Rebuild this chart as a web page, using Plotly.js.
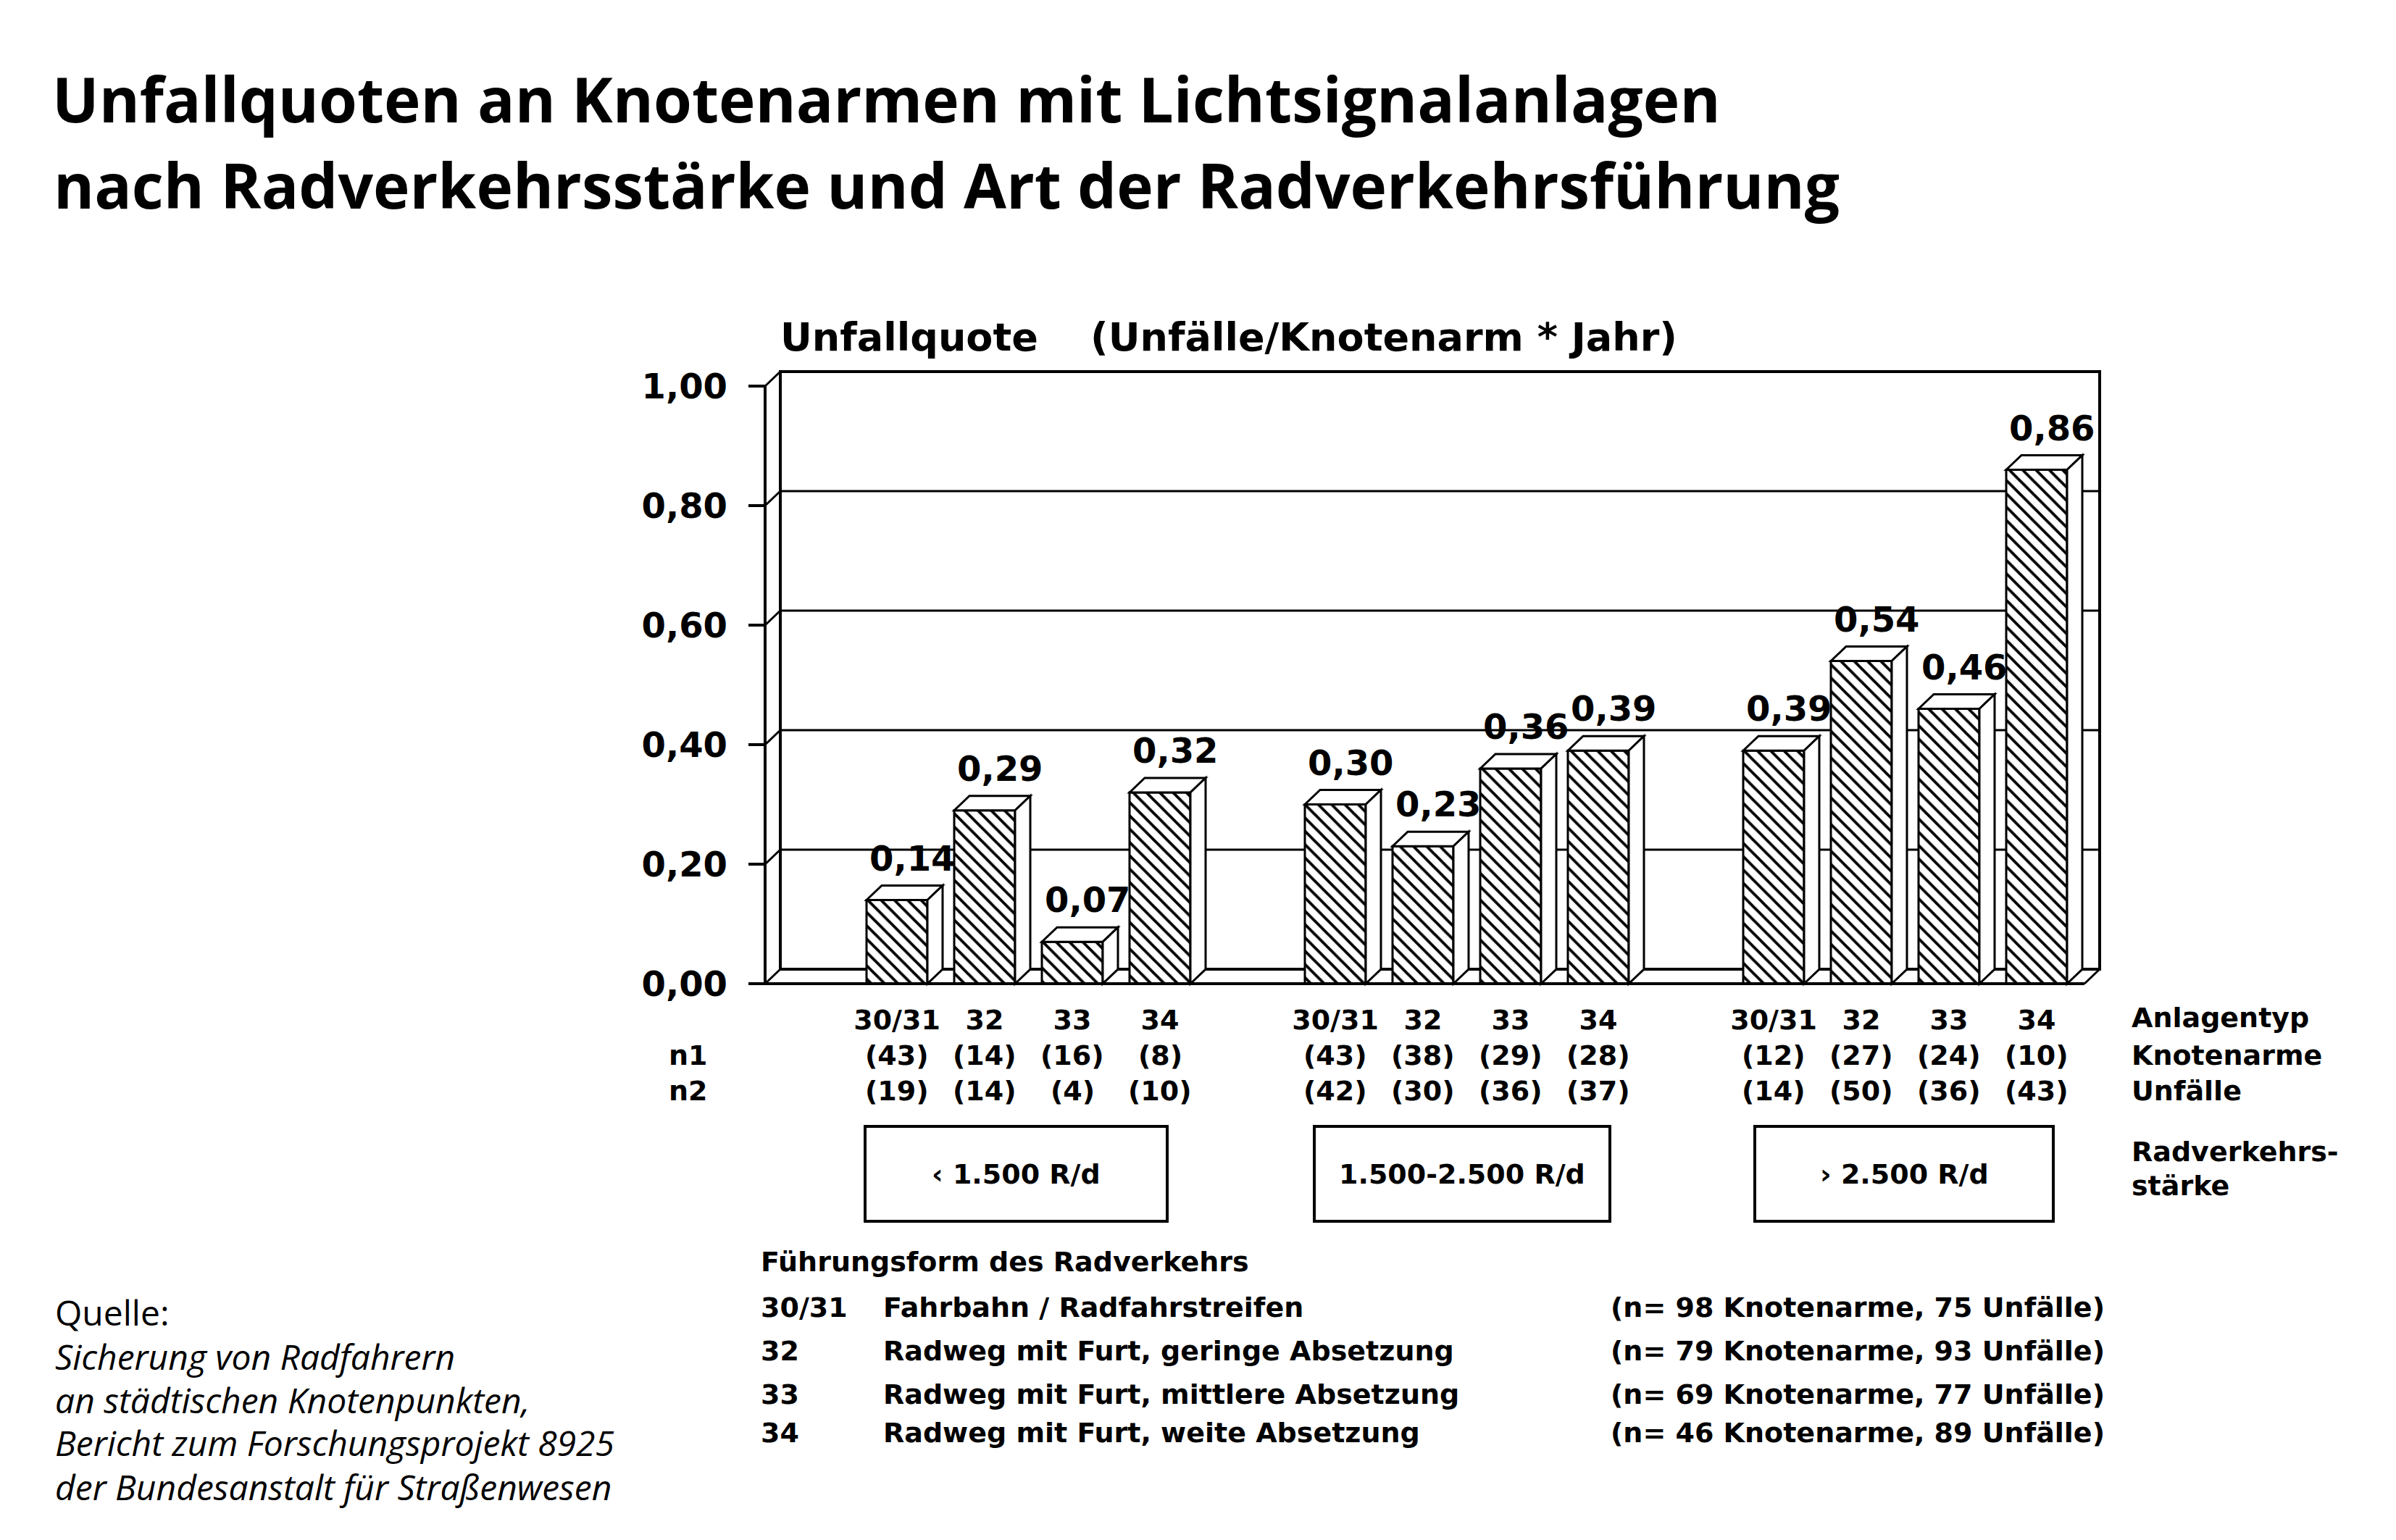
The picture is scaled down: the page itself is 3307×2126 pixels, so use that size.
<!DOCTYPE html>
<html>
<head>
<meta charset="utf-8">
<script src="https://cdn.plot.ly/plotly-3.0.1.min.js"></script>
<style>html,body{margin:0;padding:0;background:#fff;}#chart{width:3307px;height:2126px;}</style>
</head>
<body>
<div id="chart"></div>
<script>
// ---------------- data ----------------
const titelZeilen = ["Unfallquoten an Knotenarmen mit Lichtsignalanlagen", "nach Radverkehrsstärke und Art der Radverkehrsführung"];
const anlagentyp = ["30/31", "32", "33", "34"];
const radverkehrsstaerke = ["‹ 1.500 R/d", "1.500-2.500 R/d", "› 2.500 R/d"];
const quote_unter1500 = [0.14, 0.29, 0.07, 0.32];
const quote_1500bis2500 = [0.30, 0.23, 0.36, 0.39];
const quote_ueber2500 = [0.39, 0.54, 0.46, 0.86];
const knotenarme_unter1500 = [43, 14, 16, 8];
const knotenarme_1500bis2500 = [43, 38, 29, 28];
const knotenarme_ueber2500 = [12, 27, 24, 10];
const unfaelle_unter1500 = [19, 14, 4, 10];
const unfaelle_1500bis2500 = [42, 30, 36, 37];
const unfaelle_ueber2500 = [14, 50, 36, 43];
const yTickVals = [0, 0.2, 0.4, 0.6, 0.8, 1.0];
const yTickText = ["0,00", "0,20", "0,40", "0,60", "0,80", "1,00"];
const fuehrungCodes = ["30/31", "32", "33", "34"];
const fuehrungNamen = ["Fahrbahn / Radfahrstreifen", "Radweg mit Furt, geringe Absetzung", "Radweg mit Furt, mittlere Absetzung", "Radweg mit Furt, weite Absetzung"];
const fuehrungKnotenarme = [98, 79, 69, 46];
const fuehrungUnfaelle = [75, 93, 77, 89];
const quelleZeilen = ["Sicherung von Radfahrern", "an städtischen Knotenpunkten,", "Bericht zum Forschungsprojekt 8925", "der Bundesanstalt für Straßenwesen"];

// ---------------- geometry (layout) ----------------
const W = 3307, H = 2126;
const plotL = 1025, plotR = 2910, plotT = 500, plotB = 1372;
const slotPx = 121, pos0Px = 1238, zeroPx = 1358, unitPx = 825;
const xRange = [(plotL - pos0Px) / slotPx, (plotR - pos0Px) / slotPx];
const yRange = [(zeroPx - plotB) / unitPx, (zeroPx - plotT) / unitPx];
const DX = 21 / slotPx, DY = 20 / unitPx;
const XF0 = (1056 - pos0Px) / slotPx, XF1 = (2877 - pos0Px) / slotPx;
const BARW = 84 / slotPx;
const PX = p => (p - plotL) / (plotR - plotL);
const PY = p => (plotB - p) / (plotB - plotT);

const groupQuote = [quote_unter1500, quote_1500bis2500, quote_ueber2500];
const groupN1 = [knotenarme_unter1500, knotenarme_1500bis2500, knotenarme_ueber2500];
const groupN2 = [unfaelle_unter1500, unfaelle_1500bis2500, unfaelle_ueber2500];
const xs = [], ys = [], labels = [], n1 = [], n2 = [];
groupQuote.forEach((g, gi) => g.forEach((v, i) => {
  xs.push(gi * 5 + i); ys.push(v); labels.push(anlagentyp[i]);
  n1.push(groupN1[gi][i]); n2.push(groupN2[gi][i]);
}));
const fmt = v => v.toFixed(2).replace('.', ',');

const F = 'DejaVu Sans';
const annotations = [];
function ann(text, x, y, o) {
  o = o || {};
  annotations.push(Object.assign({
    text: text, x: x, y: y, xref: 'paper', yref: 'paper', showarrow: false,
    xanchor: 'center', yanchor: 'middle',
    font: {family: F, size: 38, color: '#000', weight: 'bold'}
  }, o));
}
const titleFont = {family: 'Open Sans', size: 85.5, color: '#000', weight: 700};
ann(titelZeilen[1], PX(72), PY(255), {xanchor: 'left', font: titleFont});

// value labels
xs.forEach((x, k) => ann(fmt(ys[k]), x + DX, ys[k] + DY, {xref: 'x', yref: 'y', yanchor: 'bottom', yshift: 8, font: {family: F, size: 48, color: '#000', weight: 'bold'}}));
// n1 / n2 rows
xs.forEach((x, k) => {
  ann('(' + n1[k] + ')', x, PY(1457), {xref: 'x'});
  ann('(' + n2[k] + ')', x, PY(1506), {xref: 'x'});
});
ann('n1', PX(950), PY(1457));
ann('n2', PX(950), PY(1506));
ann('Anlagentyp', PX(2940), PY(1405), {xanchor: 'left'});
ann('Knotenarme', PX(2940), PY(1457), {xanchor: 'left'});
ann('Unfälle', PX(2940), PY(1506), {xanchor: 'left'});
ann('Radverkehrs-', PX(2940), PY(1590), {xanchor: 'left'});
ann('stärke', PX(2940), PY(1637), {xanchor: 'left'});
// boxes
const boxes = [[1194, 1611], [1814, 2222], [2422, 2834]];
const shapes = [];
boxes.forEach((b, i) => {
  shapes.push({type: 'rect', xref: 'paper', yref: 'paper', x0: PX(b[0]), x1: PX(b[1]), y0: PY(1686), y1: PY(1555), line: {color: '#000', width: 4}, layer: 'above'});
  ann(radverkehrsstaerke[i], PX((b[0] + b[1]) / 2), PY(1621));
});
// subtitle
const subFont = {family: F, size: 54, color: '#000', weight: 'bold'};
ann('Unfallquote', PX(1075), PY(465), {xanchor: 'left', font: subFont});
ann('(Unfälle/Knotenarm\u00a0*\u00a0Jahr)', PX(1503), PY(465), {xanchor: 'left', font: subFont});
// legend of Führungsform
ann('Führungsform des Radverkehrs', PX(1048), PY(1742), {xanchor: 'left'});
const legY = [1805, 1865, 1925, 1978];
fuehrungCodes.forEach((c, i) => {
  ann(c, PX(1048), PY(legY[i]), {xanchor: 'left'});
  ann(fuehrungNamen[i], PX(1217), PY(legY[i]), {xanchor: 'left'});
  ann('(n= ' + fuehrungKnotenarme[i] + ' Knotenarme, ' + fuehrungUnfaelle[i] + ' Unfälle)', PX(2221), PY(legY[i]), {xanchor: 'left'});
});
// source
const qFont = {family: 'Open Sans', size: 48, color: '#000', weight: 400};
ann('Quelle:', PX(74), PY(1812), {xanchor: 'left', font: qFont});
quelleZeilen.forEach((t, i) => ann(t, PX(74), PY(1872 + 60 * i), {xanchor: 'left', font: Object.assign({}, qFont, {style: 'italic'})}));

// ---------------- 3D frame shapes ----------------
function line(x0, y0, x1, y1, w, layer) {
  shapes.push({type: 'line', xref: 'x', yref: 'y', x0: x0, y0: y0, x1: x1, y1: y1, line: {color: '#000', width: w}, layer: layer || 'below'});
}
yTickVals.slice(1, -1).forEach(v => line(XF0 + DX, v + DY, XF1 + DX, v + DY, 3));
shapes.push({type: 'rect', xref: 'x', yref: 'y', x0: XF0 + DX, x1: XF1 + DX, y0: DY, y1: 1 + DY, line: {color: '#000', width: 4}, layer: 'below'});
line(XF0, 0, XF0, 1, 4);
yTickVals.forEach(v => line(XF0, v, XF0 + DX, v + DY, 3));
line(XF0, 0, XF1, 0, 4, 'above');
line(XF1, 0, XF1 + DX, DY, 3, 'above');
yTickVals.forEach(v => line(XF0 - 23 / slotPx, v, XF0, v, 4, 'above'));
// bar tops and sides
xs.forEach((x, k) => {
  const v = ys[k], l = x - BARW / 2, r = x + BARW / 2;
  shapes.push({type: 'path', xref: 'x', yref: 'y', layer: 'above', fillcolor: '#fff', line: {color: '#000', width: 3},
    path: `M ${l},${v} L ${l + DX},${v + DY} L ${r + DX},${v + DY} L ${r},${v} Z`});
  shapes.push({type: 'path', xref: 'x', yref: 'y', layer: 'above', fillcolor: '#fff', line: {color: '#000', width: 3},
    path: `M ${r},${v} L ${r + DX},${v + DY} L ${r + DX},${DY} L ${r},0 Z`});
});

const trace = {
  type: 'bar', x: xs, y: ys, width: BARW, hoverinfo: 'skip',
  marker: {color: '#fff', line: {color: '#000', width: 3},
    pattern: {shape: '\\', fgcolor: '#000', bgcolor: '#fff', size: 13, solidity: 0.3, fillmode: 'replace'}}
};

const layout = {
  width: W, height: H, paper_bgcolor: '#fff', plot_bgcolor: 'rgba(0,0,0,0)',
  margin: {l: plotL, r: W - plotR, t: plotT, b: H - plotB, pad: 0},
  showlegend: false,
  title: {text: titelZeilen[0],
    xref: 'container', yref: 'container', x: 72 / W, xanchor: 'left', y: 1 - 109 / H, yanchor: 'top',
    font: titleFont},
  xaxis: {range: xRange, showgrid: false, zeroline: false, showline: false, ticks: '',
    tickmode: 'array', tickvals: xs, ticktext: labels, ticklabelstandoff: 10,
    tickfont: {family: F, size: 38, color: '#000', weight: 'bold'}},
  yaxis: {range: yRange, showgrid: false, zeroline: false, showline: false, ticks: '',
    tickmode: 'array', tickvals: yTickVals, ticktext: yTickText, ticklabelstandoff: 20,
    tickfont: {family: F, size: 48, color: '#000', weight: 'bold'}},
  shapes: shapes, annotations: annotations
};
Plotly.newPlot('chart', [trace], layout, {displayModeBar: false, staticPlot: true});
</script>
</body>
</html>
